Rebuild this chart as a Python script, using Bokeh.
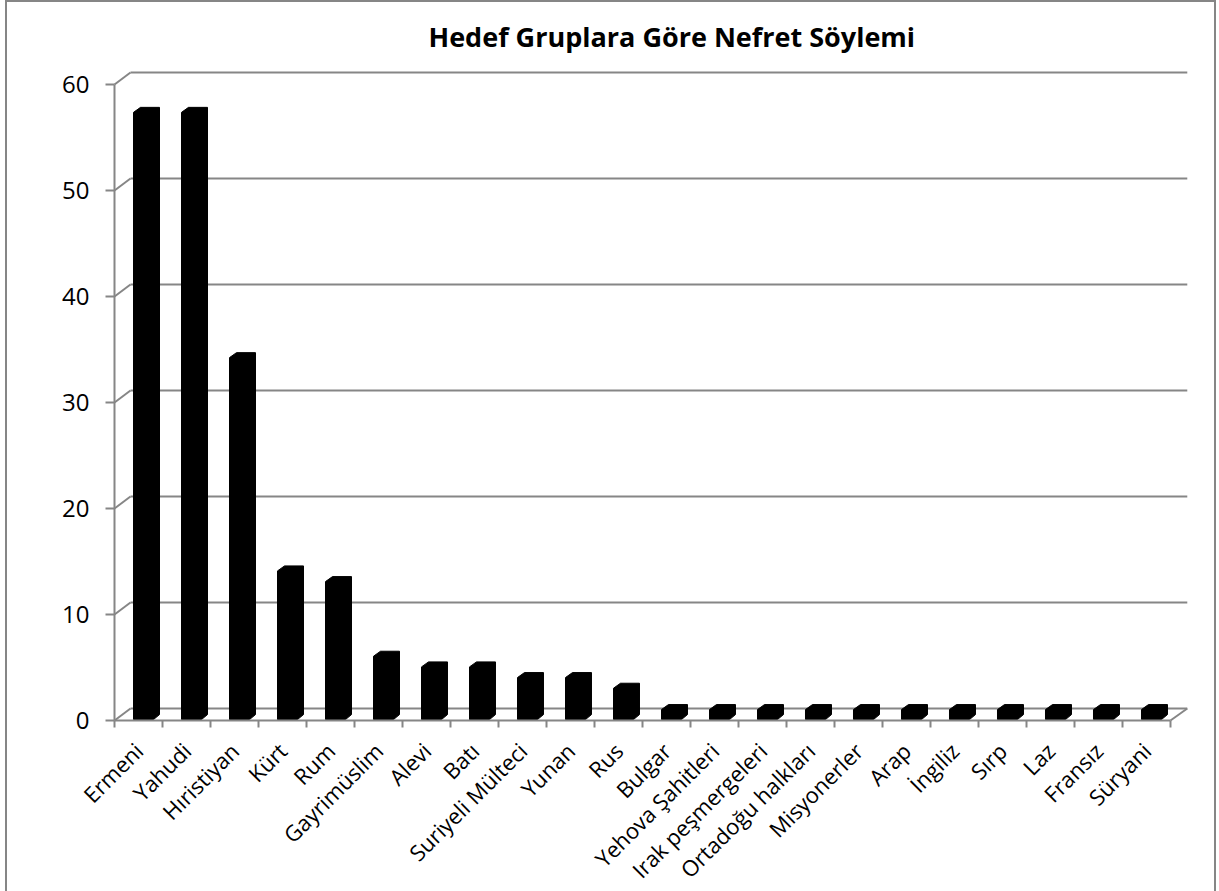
import math
from bokeh.plotting import figure
from bokeh.models import Range1d, LinearAxis, FixedTicker
from bokeh.embed import file_html
from bokeh.resources import INLINE

# ---- data ----
categories = ["Ermeni", "Yahudi", "Hıristiyan", "Kürt", "Rum", "Gayrimüslim", "Alevi", "Batı",
              "Suriyeli Mülteci", "Yunan", "Rus", "Bulgar", "Yehova Şahitleri", "Irak peşmergeleri",
              "Ortadoğu halkları", "Misyonerler", "Arap", "İngiliz", "Sırp", "Laz", "Fransız", "Süryani"]
values = [57, 57, 34, 14, 13, 6, 5, 5, 4, 4, 3, 1, 1, 1, 1, 1, 1, 1, 1, 1, 1, 1]
y_ticks = [0, 10, 20, 30, 40, 50, 60]
title_text = "Hedef Gruplara Göre Nefret Söylemi"

# ---- style constants ----
GRID = "#868686"
FONT = "Open Sans"
N = len(categories)
DX, DY = 0.333, 1.13          # depth offset of the back wall (data units)
X_END = N + 0.35
Y_TOP = max(y_ticks)
BAR_SCALE, BAR_LIFT = 1.006, 0.5   # bars sit at mid-depth

# the frame covers the whole lower/left canvas so the axes (fixed at 0) are not clipped
p = figure(width=1211, height=891,
           min_border_left=0, min_border_right=26, min_border_top=70, min_border_bottom=0,
           x_range=Range1d(-2.271, 22.417), y_range=Range1d(-16.13, 61.32),
           x_axis_type=None, y_axis_type=None,
           output_backend="svg", toolbar_location=None)
p.outline_line_color = None
p.border_fill_color = None
p.background_fill_color = None
p.styles = {"position": "relative", "left": "5px", "background": "white",
            "box-shadow": "inset 2px 2px 0 0 #868686, inset -2px 0 0 0 #868686"}

p.title.text = title_text
p.title.text_font = FONT
p.title.text_font_style = "bold"
p.title.text_font_size = "27px"
p.title.text_color = "black"
p.title.align = "left"
p.title.offset = 423
p.title.standoff = 31

# back-wall gridlines and slanted connectors to the front axis
p.segment(x0=[DX] * len(y_ticks), y0=[t + DY for t in y_ticks],
          x1=[X_END] * len(y_ticks), y1=[t + DY for t in y_ticks],
          line_color=GRID, line_width=2)
p.segment(x0=[0] * len(y_ticks), y0=y_ticks,
          x1=[DX] * len(y_ticks), y1=[t + DY for t in y_ticks],
          line_color=GRID, line_width=2)
p.segment(x0=[N], y0=[0], x1=[X_END], y1=[DY], line_color=GRID, line_width=2)

# beveled bars
xs, ys = [], []
for i, v in enumerate(values):
    c = i + 0.5
    l, r = c - 0.104, c + 0.4375
    top, bot = v * BAR_SCALE + BAR_LIFT, 0.09
    b = 0.47
    xs.append([l, l, l + 0.146, r, r, r - 0.125])
    ys.append([bot, top - b, top, top, bot + b, bot])
p.patches(xs=xs, ys=ys, fill_color="black", line_color="black", line_width=1)

yaxis = LinearAxis(ticker=FixedTicker(ticks=y_ticks, minor_ticks=[]), bounds=(0, Y_TOP),
                   fixed_location=0,
                   axis_line_color=GRID, axis_line_width=2,
                   major_tick_line_color=GRID, major_tick_line_width=2,
                   major_tick_out=9, major_tick_in=0,
                   minor_tick_line_color=None,
                   major_label_text_font=FONT, major_label_text_font_size="24px",
                   major_label_text_color="black", major_label_standoff=16)
p.add_layout(yaxis, "left")

# x axis at value 0: names at category centres, tick marks at boundaries
centers = [i + 0.5 for i in range(N)]
xaxis = LinearAxis(ticker=FixedTicker(ticks=centers, minor_ticks=list(range(N + 1))),
                   bounds=(0, N), fixed_location=0,
                   axis_line_color=GRID, axis_line_width=2,
                   major_tick_line_color=None, major_tick_out=0, major_tick_in=0,
                   minor_tick_line_color=GRID, minor_tick_line_width=2,
                   minor_tick_out=7, minor_tick_in=0,
                   major_label_overrides={c: name for c, name in zip(centers, categories)},
                   major_label_orientation=math.pi / 4,
                   major_label_text_font=FONT, major_label_text_font_size="22px",
                   major_label_text_color="black", major_label_standoff=19)
p.add_layout(xaxis, "below")

open("out.html", "w").write(file_html(p, INLINE))
